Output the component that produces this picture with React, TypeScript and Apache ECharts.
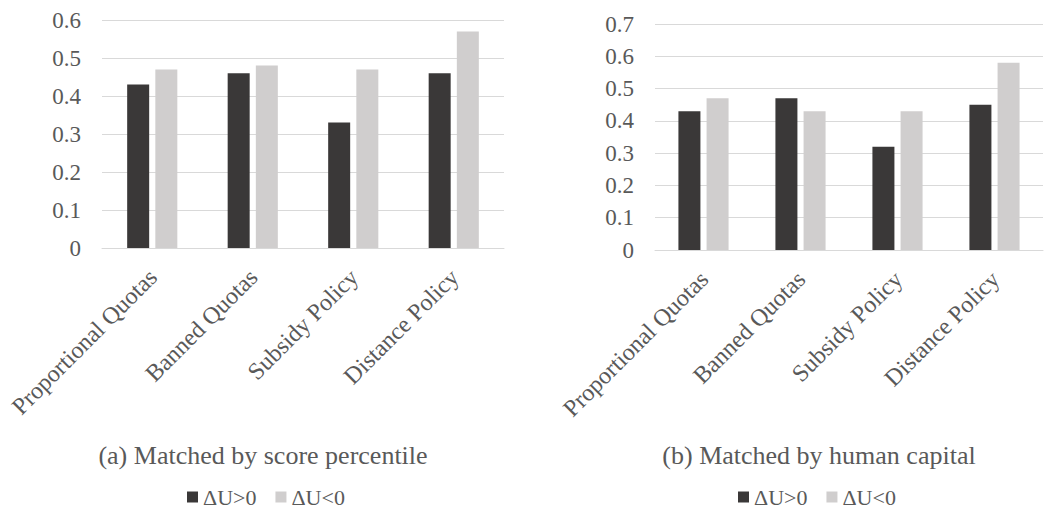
import React, { useEffect, useRef } from "react";
import * as echarts from "echarts";

const categories = ["Proportional Quotas", "Banned Quotas", "Subsidy Policy", "Distance Policy"];
const seriesNames = ["ΔU>0", "ΔU<0"];

// (a) Matched by score percentile
const scorePositive = [0.43, 0.46, 0.33, 0.46];
const scoreNegative = [0.47, 0.48, 0.47, 0.57];

// (b) Matched by human capital
const capitalPositive = [0.43, 0.47, 0.32, 0.45];
const capitalNegative = [0.47, 0.43, 0.43, 0.58];

const yTicksLeft = { min: 0, max: 0.6, interval: 0.1 };
const yTicksRight = { min: 0, max: 0.7, interval: 0.1 };

const captions = ["(a) Matched by score percentile", "(b) Matched by human capital"];

const FONT = "'Liberation Serif', 'Times New Roman', serif";
const TEXT = "#595959";
const GRID = "#D9D9D9";
const DARK = "#3A3838";
const LIGHT = "#D0CECE";

export default function App() {
  const ref = useRef<HTMLDivElement>(null);

  useEffect(() => {
    document.body.style.margin = "0";
    if (!ref.current) return;
    const chart = echarts.init(ref.current, undefined, { renderer: "svg" });

    const xAxisBase = (gridIndex: number) => ({
      type: "category" as const,
      gridIndex,
      data: categories,
      axisLine: { show: true, lineStyle: { color: GRID, width: 1 } },
      axisTick: { show: false },
      axisLabel: {
        rotate: 45,
        margin: 9,
        interval: 0,
        verticalAlign: "top" as const,
        padding: [0, 11, 0, 0],
        color: TEXT,
        fontFamily: FONT,
        fontSize: 24,
      },
    });

    const yAxisBase = (gridIndex: number, t: { min: number; max: number; interval: number }) => ({
      type: "value" as const,
      gridIndex,
      min: t.min,
      max: t.max,
      interval: t.interval,
      axisLine: { show: false },
      axisTick: { show: false },
      splitLine: { show: true, lineStyle: { color: GRID, width: 1 } },
      axisLabel: {
        margin: 21,
        color: TEXT,
        fontFamily: FONT,
        fontSize: 23,
        formatter: (v: number) => (v === 0 ? "0" : String(Math.round(v * 10) / 10)),
      },
    });

    const barSeries = (name: string, data: number[], color: string, idx: number) => ({
      name,
      type: "bar" as const,
      xAxisIndex: idx,
      yAxisIndex: idx,
      data,
      barWidth: 22,
      barGap: "28%",
      itemStyle: { color },
    });

    const legendBase = (left: number) => ({
      data: seriesNames,
      left,
      top: 486,
      padding: 0,
      itemWidth: 11,
      itemHeight: 11,
      itemGap: 19,
      icon: "rect",
      textStyle: { color: TEXT, fontFamily: FONT, fontSize: 22 },
    });

    chart.setOption({
      animation: false,
      backgroundColor: "#ffffff",
      grid: [
        { left: 102, top: 20, width: 402, height: 228 },
        { left: 655, top: 24, width: 388, height: 226 },
      ],
      xAxis: [xAxisBase(0), xAxisBase(1)],
      yAxis: [yAxisBase(0, yTicksLeft), yAxisBase(1, yTicksRight)],
      legend: [legendBase(187), legendBase(738)],
      series: [
        barSeries(seriesNames[0], scorePositive, DARK, 0),
        barSeries(seriesNames[1], scoreNegative, LIGHT, 0),
        barSeries(seriesNames[0], capitalPositive, DARK, 1),
        barSeries(seriesNames[1], capitalNegative, LIGHT, 1),
      ],
      graphic: [
        {
          type: "text",
          x: 263,
          y: 455,
          style: {
            text: captions[0],
            fill: TEXT,
            font: `26px ${FONT}`,
            textAlign: "center",
            textVerticalAlign: "middle",
          },
        },
        {
          type: "text",
          x: 819,
          y: 455,
          style: {
            text: captions[1],
            fill: TEXT,
            font: `26px ${FONT}`,
            textAlign: "center",
            textVerticalAlign: "middle",
          },
        },
      ],
    });

    return () => chart.dispose();
  }, []);

  return <div ref={ref} style={{ width: 1046, height: 512 }} />;
}
